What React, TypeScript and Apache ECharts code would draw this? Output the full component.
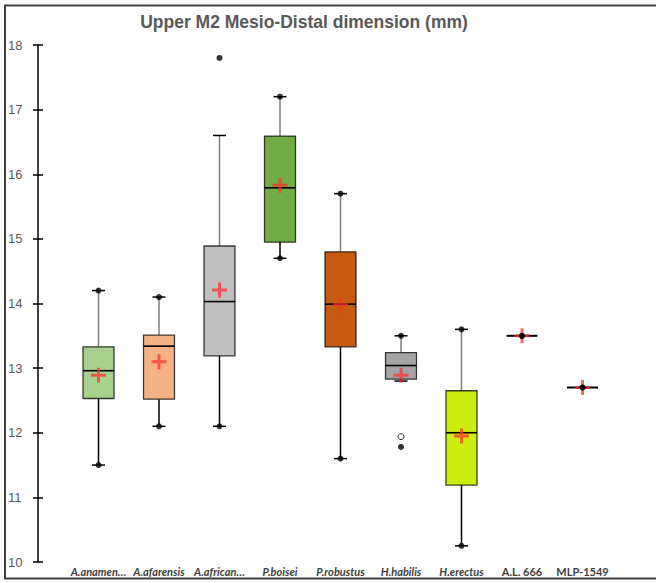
import React, { useEffect, useRef } from "react";
import * as echarts from "echarts";

const title = "Upper M2 Mesio-Distal dimension (mm)";
const categories = ["A.anamen…", "A.afarensis", "A.african…", "P.boisei", "P.robustus", "H.habilis", "H.erectus", "A.L. 666", "MLP-1549"];
const italicLabel = [true, true, true, true, true, true, true, false, false];
const whiskerLow = [11.5, 12.1, 12.1, 14.7, 11.6, 12.8, 10.25, 13.5, 12.7];
const q1Vals = [12.53, 12.52, 13.19, 14.95, 13.33, 12.83, 11.19, 13.5, 12.7];
const medianVals = [12.96, 13.34, 14.03, 15.79, 13.99, 13.04, 12.0, 13.5, 12.7];
const q3Vals = [13.33, 13.51, 14.89, 16.59, 14.8, 13.24, 12.65, 13.5, 12.7];
const whiskerHigh = [14.2, 14.1, 16.6, 17.2, 15.7, 13.5, 13.6, 13.5, 12.7];
const meanVals = [12.89, 13.1, 14.21, 15.83, 13.98, 12.89, 11.95, 13.5, 12.7];
const dataMin = [11.5, 12.1, 12.1, 14.7, 11.6, 11.78, 10.25, 13.5, 12.7];
const dataMax = [14.2, 14.1, 17.8, 17.2, 15.7, 13.5, 13.6, 13.5, 12.7];
const hollowOutliers: [number, number][] = [[6, 11.94]];
const boxColors = ["#A9D18E", "#F4B183", "#BFBFBF", "#70AD47", "#C55A11", "#A5A5A5", "#CCEE11", "#000000", "#000000"];
const yTicks = { min: 10, max: 18, interval: 1 };

export default function App() {
  const ref = useRef<HTMLDivElement>(null);
  useEffect(() => {
    document.body.style.margin = "0";
    if (!ref.current) return;
    const chart = echarts.init(ref.current, null, { renderer: "svg" });

    const boxData = categories.map((_, i) => [i + 1, whiskerLow[i], q1Vals[i], medianVals[i], q3Vals[i], whiskerHigh[i]]);

    const renderBox = (params: any, api: any) => {
      const i = params.dataIndex;
      const xv = api.value(0);
      const pLo = api.coord([xv, api.value(1)]);
      const pQ1 = api.coord([xv, api.value(2)]);
      const pMed = api.coord([xv, api.value(3)]);
      const pQ3 = api.coord([xv, api.value(4)]);
      const pHi = api.coord([xv, api.value(5)]);
      const cx = pMed[0];
      const half = api.size([1, 0])[0] * 0.256;
      const cap = 6.5;
      const children: any[] = [];
      if (api.value(4) > api.value(2)) {
        children.push({
          type: "line",
          shape: { x1: cx, y1: pQ3[1], x2: cx, y2: pHi[1] },
          style: { stroke: "#7F7F7F", lineWidth: 1.5 },
        });
        children.push({
          type: "line",
          shape: { x1: cx, y1: pQ1[1], x2: cx, y2: pLo[1] },
          style: { stroke: "#000000", lineWidth: 1.5 },
        });
        children.push({
          type: "line",
          shape: { x1: cx - cap, y1: pHi[1], x2: cx + cap, y2: pHi[1] },
          style: { stroke: "#000000", lineWidth: 1.5 },
        });
        children.push({
          type: "line",
          shape: { x1: cx - cap, y1: pLo[1], x2: cx + cap, y2: pLo[1] },
          style: { stroke: "#000000", lineWidth: 1.5 },
        });
        children.push({
          type: "rect",
          shape: { x: cx - half, y: pQ3[1], width: half * 2, height: pQ1[1] - pQ3[1] },
          style: { fill: boxColors[i], stroke: "rgba(0,0,0,0.75)", lineWidth: 1.3 },
        });
        children.push({
          type: "line",
          shape: { x1: cx - half, y1: pMed[1], x2: cx + half, y2: pMed[1] },
          style: { stroke: "#000000", lineWidth: 1.6 },
        });
      } else {
        children.push({
          type: "line",
          shape: { x1: cx - half, y1: pMed[1], x2: cx + half, y2: pMed[1] },
          style: { stroke: "#000000", lineWidth: 2 },
        });
      }
      return { type: "group", children };
    };

    const option: any = {
      animation: false,
      backgroundColor: "#ffffff",
      title: {
        text: title,
        left: 304,
        top: 13,
        textAlign: "center",
        padding: 0,
        textStyle: { fontFamily: "Liberation Sans", fontSize: 17.5, fontWeight: "bold", color: "#595959" },
      },
      graphic: [
        {
          type: "rect",
          shape: { x: 5, y: 5.5, width: 680, height: 573 },
          style: { fill: "none", stroke: "#404040", lineWidth: 2 },
          silent: true,
        },
      ],
      grid: { left: 38, right: 13, top: 45, bottom: 21, containLabel: false, outerBoundsMode: "none" },
      xAxis: {
        type: "value",
        min: 0,
        max: 10,
        interval: 1,
        axisLine: { show: false },
        axisTick: { show: false },
        splitLine: { show: false },
        axisLabel: {
          margin: 4,
          showMinLabel: true,
          showMaxLabel: true,
          formatter: (v: number) => {
            const idx = Math.round(v) - 1;
            if (idx < 0 || idx >= categories.length) return "";
            return italicLabel[idx] ? `{i|${categories[idx]}}` : `{n|${categories[idx]}}`;
          },
          rich: {
            i: { fontFamily: "Lato", fontSize: 11, fontWeight: "bold", fontStyle: "italic", color: "#404040" },
            n: { fontFamily: "Lato", fontSize: 11, fontWeight: "bold", color: "#404040" },
          },
        },
      },
      yAxis: [
        {
          type: "value",
          min: yTicks.min,
          max: yTicks.max,
          interval: yTicks.interval,
          axisLine: { show: true, lineStyle: { color: "#000000", width: 1.5 } },
          axisTick: { show: true, length: 5, lineStyle: { color: "#000000", width: 1.5 } },
          splitLine: { show: false },
          axisLabel: {
            align: "left",
            margin: 30,
            fontFamily: "Liberation Sans",
            fontSize: 13,
            color: "#595959",
          },
        },
        {
          type: "value",
          min: yTicks.min,
          max: yTicks.max,
          interval: yTicks.interval,
          position: "left",
          axisLine: { show: false },
          axisTick: { show: true, inside: true, length: 5, lineStyle: { color: "#000000", width: 1.5 } },
          splitLine: { show: false },
          axisLabel: { show: false },
        },
      ],
      series: [
        {
          name: "Box",
          type: "custom",
          z: 2,
          renderItem: renderBox,
          encode: { x: 0, y: [1, 2, 3, 4, 5] },
          data: boxData,
        },
        {
          name: "Mean",
          type: "scatter",
          z: 3,
          symbol: "path://M6 0H9V6H15V9H9V15H6V9H0V6H6Z",
          symbolSize: 15,
          itemStyle: { color: "rgba(255,45,45,0.9)" },
          data: meanVals.map((v, i) => [i + 1, v]),
        },
        {
          name: "Minimum",
          type: "scatter",
          z: 4,
          symbol: "circle",
          symbolSize: 6,
          itemStyle: { color: "#000000" },
          data: dataMin.map((v, i) => [i + 1, v]),
        },
        {
          name: "Maximum",
          type: "scatter",
          z: 4,
          symbol: "circle",
          symbolSize: 6,
          itemStyle: { color: "#000000" },
          data: dataMax.map((v, i) => [i + 1, v]),
        },
        {
          name: "Outliers",
          type: "scatter",
          z: 4,
          symbol: "circle",
          symbolSize: 6,
          itemStyle: { color: "#ffffff", borderColor: "#000000", borderWidth: 1 },
          data: hollowOutliers,
        },
      ],
    };
    chart.setOption(option);
    return () => chart.dispose();
  }, []);
  return <div ref={ref} style={{ width: 656, height: 583 }} />;
}
